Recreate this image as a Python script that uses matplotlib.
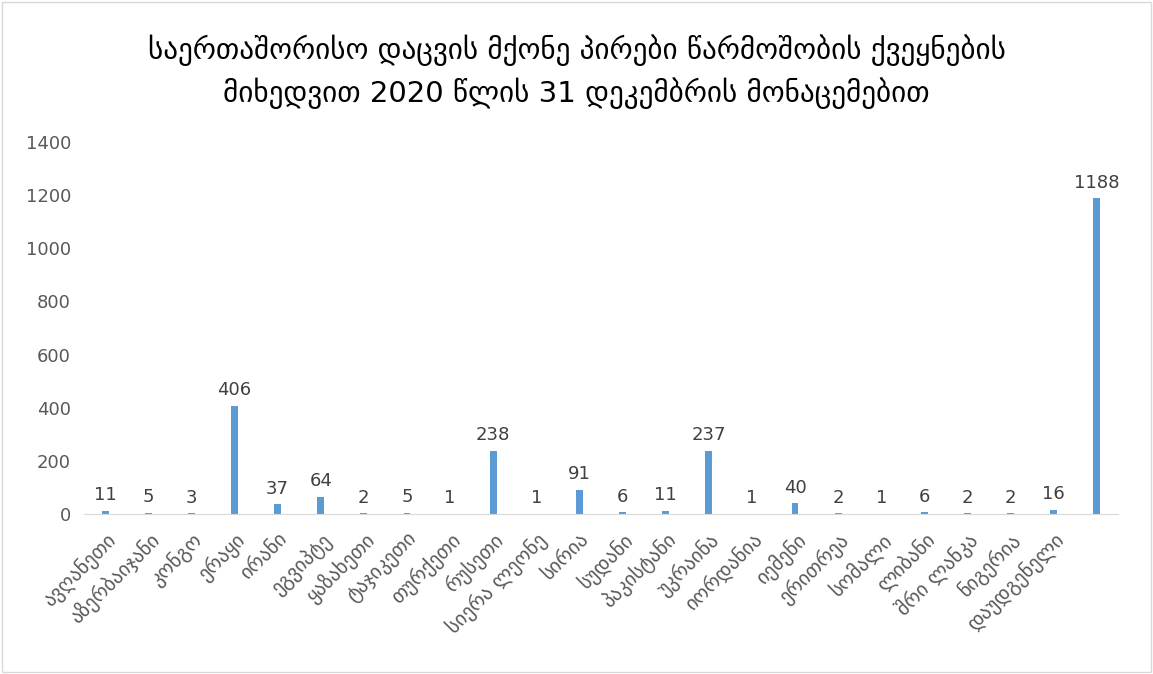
import matplotlib
matplotlib.use("Agg")
import matplotlib.pyplot as plt

# data
countries = ["ავღანეთი", "აზერბაიჯანი", "კონგო", "ერაყი", "ირანი", "ეგვიპტე",
             "ყაზახეთი", "ტაჯიკეთი", "თურქეთი", "რუსეთი", "სიერა ლეონე", "სირია",
             "სუდანი", "პაკისტანი", "უკრაინა", "იორდანია", "იემენი", "ერითრეა",
             "სომალი", "ლიბანი", "შრი ლანკა", "ნიგერია", "დაუდგენელი", ""]
persons = [11, 5, 3, 406, 37, 64, 2, 5, 1, 238, 1, 91, 6, 11, 237, 1, 40, 2,
           1, 6, 2, 2, 16, 1188]
yticks = [0, 200, 400, 600, 800, 1000, 1200, 1400]
title = ("საერთაშორისო დაცვის მქონე პირები წარმოშობის ქვეყნების\n"
         "მიხედვით 2020 წლის 31 დეკემბრის მონაცემებით")

plt.rcParams['font.family'] = ['DejaVu Sans']

fig = plt.figure(figsize=(11.53, 6.74), dpi=100)
ax = fig.add_axes([0.0725, 0.2374, 0.8975, 0.552])

x = list(range(len(persons)))
bars = ax.bar(x, persons, width=0.16, color="#5B9BD5", zorder=2)
for xi, v in zip(x, persons):
    ax.text(xi, v + 25, str(v), ha="center", va="bottom", fontsize=13, color="#404040")

ax.set_xlim(-0.5, len(persons) - 0.5)
ax.set_ylim(0, 1400)
ax.set_yticks(yticks)
ax.set_yticklabels([str(t) for t in yticks], fontsize=13, color="#595959")
ax.set_xticks(x)
ax.set_xticklabels(countries, rotation=45, ha="right", rotation_mode="anchor",
                   fontsize=14.5, color="#595959")
ax.tick_params(axis="both", length=0)
ax.tick_params(axis="y", pad=9)
ax.tick_params(axis="x", pad=11)
for s in ["top", "right", "left"]:
    ax.spines[s].set_visible(False)
ax.spines["bottom"].set_color("#D9D9D9")

fig.text(0.5, 0.894, title, ha="center", va="center", fontsize=21,
         color="black", linespacing=1.45)

# light frame around the chart
fig.patches.append(plt.Rectangle((0.002, 0.003), 0.996, 0.994, transform=fig.transFigure,
                                 fill=False, edgecolor="#D9D9D9", linewidth=1))

fig.savefig("out.png", dpi=100)
